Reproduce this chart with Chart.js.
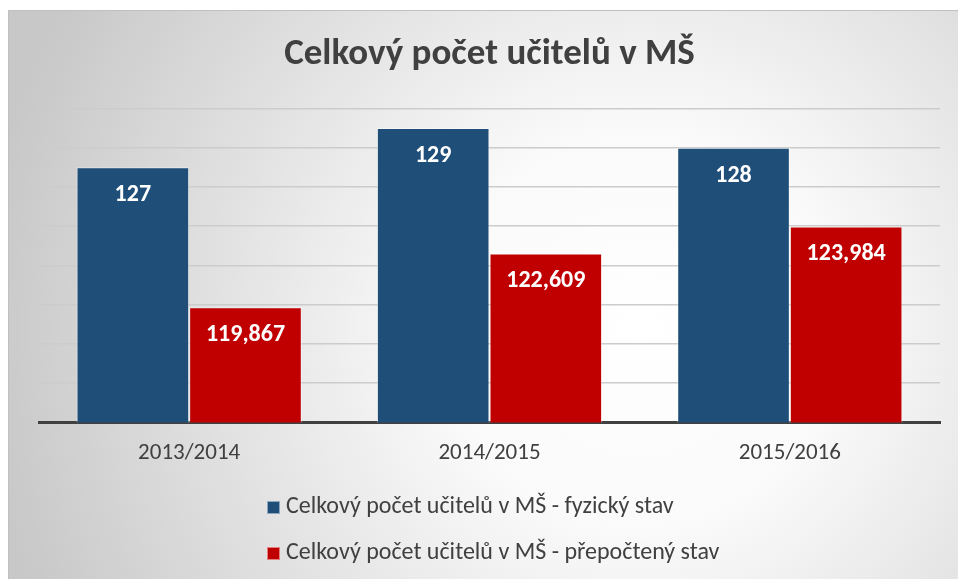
<!doctype html>
<html>
<head>
<meta charset="utf-8">
<title>Celkový počet učitelů v MŠ</title>
<script src="https://cdn.jsdelivr.net/npm/chart.js@4.4.1/dist/chart.umd.min.js"></script>
<style>
  html, body { margin: 0; padding: 0; background: #fff; }
  canvas { display: block; }
</style>
</head>
<body>
<canvas id="bar-chart" width="958" height="579"></canvas>
<script>
// data
var years = ['2013/2014', '2014/2015', '2015/2016'];
var seriesNames = [
  'Celkový počet učitelů v MŠ - fyzický stav',
  'Celkový počet učitelů v MŠ - přepočtený stav'
];
var fyzicky = [127, 129, 128];
var prepocteny = [119.867, 122.609, 123.984];
var seriesColors = ['#1F4E79', '#C00000'];

var FONT = 'Carlito, Calibri, Lato, "Open Sans", sans-serif';

// gray radial background with white centre
var bgPlugin = {
  id: 'bg',
  beforeDraw: function(chart) {
    var ctx = chart.ctx;
    ctx.save();
    ctx.fillStyle = '#ffffff';
    ctx.fillRect(0, 0, chart.width, chart.height);
    var g = ctx.createRadialGradient(640, 330, 0, 640, 330, 660);
    g.addColorStop(0, '#ffffff');
    g.addColorStop(0.3, '#fafafa');
    g.addColorStop(1, '#c8c8c8');
    ctx.fillStyle = g;
    ctx.fillRect(8, 10, chart.width - 8, chart.height - 10);
    ctx.strokeStyle = '#c0c0c0';
    ctx.lineWidth = 1;
    ctx.beginPath();
    ctx.moveTo(8.5, chart.height);
    ctx.lineTo(8.5, 10.5);
    ctx.lineTo(chart.width, 10.5);
    ctx.stroke();
    ctx.restore();
  }
};

// white value labels inside the bars
var valueLabels = {
  id: 'valueLabels',
  afterDatasetsDraw: function(chart) {
    var ctx = chart.ctx;
    ctx.save();
    ctx.fillStyle = '#ffffff';
    ctx.font = 'bold 24px ' + FONT;
    ctx.textAlign = 'center';
    ctx.textBaseline = 'middle';
    chart.data.datasets.forEach(function(ds, di) {
      var meta = chart.getDatasetMeta(di);
      meta.data.forEach(function(bar, i) {
        var txt = String(ds.data[i]).replace('.', ',');
        ctx.fillText(txt, bar.x, bar.y + 28);
      });
    });
    ctx.restore();
  }
};

// legend as a left-aligned vertical list
var listLegend = {
  id: 'listLegend',
  afterDraw: function(chart) {
    var ctx = chart.ctx;
    ctx.save();
    ctx.font = '24px ' + FONT;
    ctx.textBaseline = 'middle';
    ctx.textAlign = 'left';
    chart.data.datasets.forEach(function(ds, i) {
      var y = 507 + i * 46;
      ctx.fillStyle = ds.backgroundColor;
      ctx.fillRect(267, y - 6, 13, 13);
      ctx.strokeStyle = 'rgba(255,255,255,0.5)';
      ctx.lineWidth = 1;
      ctx.strokeRect(267.5, y - 5.5, 12, 12);
      ctx.fillStyle = '#404040';
      ctx.fillText(ds.label, 286, y);
    });
    ctx.restore();
  }
};

new Chart(document.getElementById('bar-chart'), {
  type: 'bar',
  data: {
    labels: years,
    datasets: [
      {
        label: seriesNames[0],
        data: fyzicky,
        backgroundColor: seriesColors[0],
        borderColor: 'rgba(255,255,255,0.45)',
        borderWidth: 1
      },
      {
        label: seriesNames[1],
        data: prepocteny,
        backgroundColor: seriesColors[1],
        borderColor: 'rgba(255,255,255,0.45)',
        borderWidth: 1
      }
    ]
  },
  options: {
    responsive: false,
    animation: false,
    layout: { padding: { left: 39, right: 18, top: 0, bottom: 95 } },
    datasets: { bar: { categoryPercentage: 0.75, barPercentage: 1 } },
    plugins: {
      legend: { display: false },
      tooltip: { enabled: false },
      title: {
        display: true,
        text: 'Celkový počet učitelů v MŠ',
        color: '#404040',
        font: { family: FONT, size: 37, weight: 'bold', lineHeight: 1.2 },
        padding: { top: 33, bottom: 31 }
      }
    },
    scales: {
      x: {
        grid: { display: false, drawTicks: false },
        border: { display: true, color: '#404040', width: 3 },
        ticks: { color: '#404040', font: { family: FONT, size: 23 }, padding: 17 }
      },
      y: {
        min: 114,
        max: 130,
        ticks: { stepSize: 2, display: false },
        grid: { color: '#cccccc', lineWidth: 1.5, drawTicks: false },
        border: { display: false }
      }
    }
  },
  plugins: [bgPlugin, valueLabels, listLegend]
});
</script>
</body>
</html>
